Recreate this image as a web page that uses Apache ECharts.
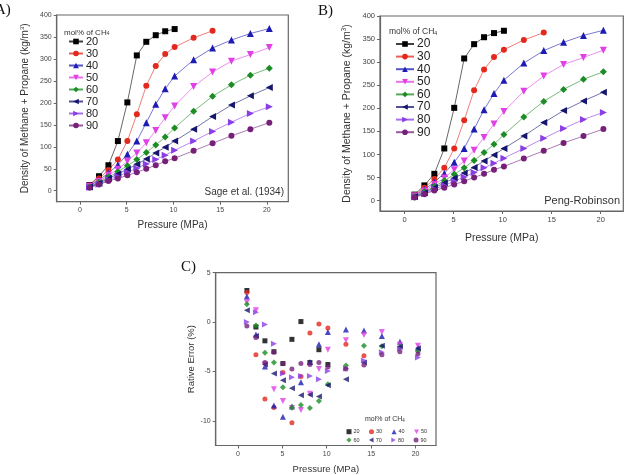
<!DOCTYPE html>
<html><head><meta charset="utf-8">
<script src="https://cdn.jsdelivr.net/npm/echarts@6/dist/echarts.min.js"></script>
<style>
html,body{margin:0;padding:0;background:#fff;width:627px;height:475px;overflow:hidden}
.c{position:absolute;left:0;top:0;width:627px;height:475px}
</style></head>
<body>
<div id="ca" class="c"></div><div id="cb" class="c"></div><div id="cc" class="c"></div>
<script>
// Pressures (MPa)
const pressure = [1.013, 2.027, 3.040, 4.053, 5.066, 6.080, 7.093, 8.106, 9.119, 10.13, 12.16, 14.19, 16.21, 18.24, 20.27];
const seriesNames = ['20','30','40','50','60','70','80','90'];
// Densities (kg/m3), experimental (Sage et al. 1934)
const dens20 = [13, 33, 58, 113, 201, 308, 339, 354, 363, 368];
const dens30 = [12, 28, 47, 71, 113, 174, 239, 284, 311, 327, 348, 364];
const dens40 = [11, 24, 40, 59, 83, 113, 155, 197, 232, 261, 298, 325, 343, 358, 369];
const dens50 = [10, 21, 35, 49, 67, 86, 109, 137, 166, 193, 237, 270, 295, 310, 326];
const dens60 = [9, 19, 31, 43, 57, 71, 87, 104, 122, 143, 181, 215, 241, 263, 279];
const dens70 = [8.5, 17, 28, 38, 49, 60, 72, 86, 99, 113, 140, 169, 195, 216, 235];
const dens80 = [8, 15, 25, 33, 42, 51, 61, 71, 81, 92, 113, 135, 156, 176, 191];
const dens90 = [7, 14, 22, 28, 35, 42, 50, 58, 67, 74, 91, 108, 125, 140, 155];
// Densities (kg/m3), Peng-Robinson
const pr20 = [13, 33, 58, 113, 201, 308, 339, 354, 363, 368];
const pr30 = [12, 28, 47, 71, 113, 174, 239, 284, 311, 327, 348, 364];
const pr40 = [11, 24, 40, 59, 83, 113, 155, 197, 232, 261, 298, 325, 343, 358, 369];
const pr50 = [10, 21, 35, 49, 67, 86, 109, 137, 166, 193, 237, 270, 295, 310, 326];
const pr60 = [9, 19, 31, 43, 57, 71, 87, 104, 122, 143, 181, 215, 241, 263, 279];
const pr70 = [8.5, 17, 28, 38, 49, 60, 72, 86, 99, 113, 140, 169, 195, 216, 235];
const pr80 = [8, 15, 25, 33, 42, 51, 61, 71, 81, 92, 113, 135, 156, 176, 191];
const pr90 = [7, 14, 22, 28, 35, 42, 50, 58, 67, 74, 91, 108, 125, 140, 155];
// Relative error (%)
const err20 = [3.2, -0.5, -1.9, -3.0, -4.2, -1.75, 0.05, -4.1, -2.8, -4.3];
const err30 = [3.0, -3.3, -7.8, -8.65, -5.1, -10.2, -5.5, -1.1, -0.2, -0.6, -2.25, -3.4];
const err40 = [2.6, -1.25, -4.5, -8.45, -9.6, -8.55, -6.1, -4.05, -2.25, -1.0, -0.75, -0.85, -1.4, -2.0, -2.6];
const err50 = [2.0, 1.2, -4.3, -6.8, -8.0, -8.7, -8.9, -7.25, -4.75, -2.8, -1.85, -1.3, -1.0, -2.3, -2.4];
const err60 = [1.8, -0.35, -3.1, -4.1, -6.6, -8.65, -8.4, -8.7, -8.0, -6.3, -4.4, -2.4, -2.45, -2.5, -2.95];
const err70 = [1.2, -1.4, -4.3, -5.2, -5.9, -6.7, -7.4, -7.35, -7.55, -6.4, -5.8, -4.1, -2.4, -2.5, -2.65];
const err80 = [0.0, 1.0, -0.25, -2.2, -5.2, -5.6, -5.45, -5.45, -5.8, -4.95, -4.7, -3.9, -3.05, -2.7, -3.6];
const err90 = [-0.4, -1.55, -4.1, -3.05, -4.2, -4.75, -4.2, -4.3, -4.1, -4.55, -4.75, -4.35, -3.3, -3.0, -3.2];
const xTicks = [0, 5, 10, 15, 20];
const densTicks = [0, 50, 100, 150, 200, 250, 300, 350, 400];
const errTicks = [-10, -5, 0, 5];

const colors = ['#000000', '#e3281e', '#1c1cb4', '#e040e6', '#1c8c24', '#16166e', '#8a3ee6', '#76207a'];
const symbols = ['rect', 'circle', 'triangle', 'triangle', 'diamond', 'triangle', 'triangle', 'circle'];
const rots = [0, 0, 0, 180, 0, 90, -90, 0];
// legend icons for the rotated triangles (down, left, right)
const legendIcons = [null, null, null, 'path://M0,0L10,0L5,9Z', null, 'path://M9,0L9,10L0,5Z', 'path://M0,0L9,5L0,10Z', null];
const SANS = 'Liberation Sans, Arial, sans-serif';
const SERIF = 'Liberation Serif, Times New Roman, serif';

function zip(vals) { return vals.map((v, i) => [pressure[i], v]); }

function axes(ymin, ymax, yTicks, yName, yGap, xGap, fs, lfs) {
  const common = {
    axisLine: { show: true, onZero: false, lineStyle: { color: '#666', width: 1.2 } },
    axisTick: { show: true, inside: false, length: 3, lineStyle: { color: '#666', width: 1 } },
    splitLine: { show: false },
    nameLocation: 'middle',
    nameTextStyle: { fontFamily: SANS, fontSize: fs, color: '#333' }
  };
  return {
    xAxis: Object.assign({}, common, {
      type: 'value', min: -2.5, max: 22.3, name: 'Pressure (MPa)', nameGap: xGap,
      axisTick: Object.assign({}, common.axisTick, { customValues: xTicks }),
      axisLabel: { customValues: xTicks, fontFamily: SANS, fontSize: lfs, color: '#444', margin: 5 }
    }),
    yAxis: Object.assign({}, common, {
      type: 'value', min: ymin, max: ymax, name: yName, nameGap: yGap,
      nameTextStyle: Object.assign({}, common.nameTextStyle, { rich: { sup: { fontFamily: SANS, fontSize: fs * 0.6, padding: [0, 0, fs * 0.55, 0], color: '#333' } } }),
      axisTick: Object.assign({}, common.axisTick, { customValues: yTicks }),
      axisLabel: { customValues: yTicks, fontFamily: SANS, fontSize: lfs, color: '#444', margin: 5 }
    })
  };
}

function densityOption(sets, grid, ymin, cfg) {
  const a = axes(ymin, 400, densTicks, 'Density of Methane + Propane (kg/m{sup|3})', cfg.yGap, cfg.xGap, cfg.fs, cfg.lfs);
  return {
    animation: false,
    grid: Object.assign({ show: true, borderColor: '#666', borderWidth: 1.2, backgroundColor: 'transparent' }, grid),
    xAxis: a.xAxis, yAxis: a.yAxis,
    title: [{
      text: 'mol% of CH{s|4}', left: cfg.titleX, top: cfg.titleY, padding: 0,
      textStyle: { fontFamily: SANS, fontSize: cfg.tfs, fontWeight: 'normal', color: '#333',
        rich: { s: { fontFamily: SANS, fontSize: cfg.tfs * 0.6, padding: [cfg.tfs * 0.45, 0, 0, 0], color: '#333' } } }
    }],
    legend: {
      orient: 'vertical', left: cfg.legX, top: cfg.legY, padding: 0, itemWidth: cfg.iw, itemHeight: 7, itemGap: cfg.gap,
      textStyle: { fontFamily: SANS, fontSize: cfg.lgfs, lineHeight: cfg.lh, color: '#222', padding: [0, 0, 0, -2] },
      data: seriesNames
    },
    graphic: [
      { type: 'text', left: cfg.panelX, top: cfg.panelY, style: { text: cfg.panel, font: '15px ' + SERIF, fill: '#111' } },
      { type: 'text', right: cfg.noteR, top: cfg.noteY, style: { text: cfg.note, font: cfg.nfs + 'px ' + SANS, fill: '#333' } }
    ],
    series: sets.map((d, i) => ({
      type: 'line', name: seriesNames[i], data: zip(d), symbol: symbols[i], symbolRotate: rots[i],
      symbolSize: symbols[i] === 'diamond' ? 7 : (symbols[i] === 'triangle' ? 7 : 6),
      itemStyle: { color: colors[i] },
      lineStyle: { color: colors[i], width: 0.8, opacity: 0.75 }
    }))
  };
}

const chartA = echarts.init(document.getElementById('ca'), null, { renderer: 'canvas' });
chartA.setOption(densityOption(
  [dens20, dens30, dens40, dens50, dens60, dens70, dens80, dens90],
  { left: 56.7, top: 15, right: 338.7, bottom: 273.3 }, -25,
  { yGap: 26, xGap: 19, fs: 10, lfs: 7, tfs: 8, titleX: 64, titleY: 28, legX: 68, legY: 36, iw: 14, gap: 1, lh: 11, lgfs: 11,
    panel: 'A)', panelX: -5, panelY: 3, note: 'Sage et al. (1934)', noteR: 343, noteY: 187, nfs: 10 }
));

const chartB = echarts.init(document.getElementById('cb'), null, { renderer: 'canvas' });
chartB.setOption(densityOption(
  [pr20, pr30, pr40, pr50, pr60, pr70, pr80, pr90],
  { left: 380, top: 16, right: 3.7, bottom: 264 }, -22.5,
  { yGap: 27, xGap: 22, fs: 10.5, lfs: 7.5, tfs: 8.5, titleX: 389, titleY: 27.5, legX: 395, legY: 38, iw: 18, gap: 0.6, lh: 12, lgfs: 12,
    panel: 'B)', panelX: 318, panelY: 4, note: 'Peng-Robinson', noteR: 7, noteY: 195, nfs: 11 }
));

const chartC = echarts.init(document.getElementById('cc'), null, { renderer: 'canvas' });
const ac = axes(-12.5, 5, errTicks, 'Rative Error (%)', 18, 18.5, 9.5, 7);
const errSets = [err20, err30, err40, err50, err60, err70, err80, err90];
const legItem = (i) => legendIcons[i] ? { name: seriesNames[i], icon: legendIcons[i] } : { name: seriesNames[i] };
const legC = (top, idx) => ({
  orient: 'horizontal', left: 346.5, top: top, padding: 0, itemWidth: 5, itemHeight: 5, itemGap: 9.4,
  textStyle: { fontFamily: SANS, fontSize: 5.5, lineHeight: 7, color: '#333', padding: [0, 0, 0, -3] },
  data: idx.map(legItem)
});
chartC.setOption({
  animation: false,
  grid: { show: true, borderColor: '#666', borderWidth: 1.2, backgroundColor: 'transparent', left: 215.7, top: 272.7, right: 191, bottom: 25.7 },
  xAxis: ac.xAxis, yAxis: ac.yAxis,
  title: [{
    text: 'mol% of CH{s|4}', left: 365, top: 415, padding: 0,
    textStyle: { fontFamily: SANS, fontSize: 7, fontWeight: 'normal', color: '#333',
      rich: { s: { fontFamily: SANS, fontSize: 4.5, padding: [3, 0, 0, 0], color: '#333' } } }
  }],
  legend: [legC(428.2, [0, 1, 2, 3]), legC(436.5, [4, 5, 6, 7])],
  graphic: [
    { type: 'text', left: 181, top: 260, style: { text: 'C)', font: '15px ' + SERIF, fill: '#111' } }
  ],
  series: errSets.map((d, i) => ({
    type: 'scatter', name: seriesNames[i], data: zip(d), symbol: symbols[i], symbolRotate: rots[i],
    symbolSize: symbols[i] === 'circle' || symbols[i] === 'rect' ? 5 : 6,
    itemStyle: { color: colors[i] }
  }))
});
</script>
</body></html>
